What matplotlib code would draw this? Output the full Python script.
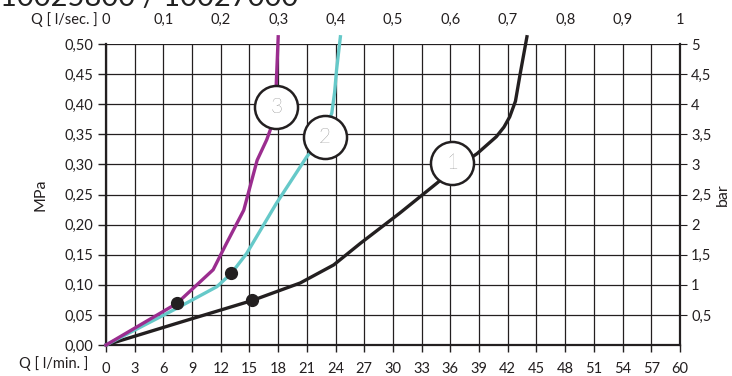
import matplotlib
matplotlib.use("Agg")
import matplotlib.pyplot as plt
from matplotlib.ticker import FuncFormatter

plt.rcParams['font.family'] = ['Lato', 'DejaVu Sans']

# curve data: flow [l/min] vs pressure [MPa]
q1 = [0, 7.4, 15.3, 20.3, 23.8, 26.6, 30.7, 34.6, 36.2, 38.8, 40.8, 41.6, 42.2, 42.8, 43.3, 44.0]
p1 = [0, 0.036, 0.074, 0.103, 0.133, 0.169, 0.219, 0.269, 0.29, 0.318, 0.346, 0.362, 0.379, 0.405, 0.451, 0.512]
q2 = [0, 7.4, 11.6, 13.1, 14.7, 17.8, 21.0, 22.4, 23.6, 23.9, 24.1, 24.5]
p2 = [0, 0.061, 0.097, 0.119, 0.152, 0.235, 0.313, 0.34, 0.385, 0.42, 0.457, 0.512]
q3 = [0, 7.4, 11.2, 12.6, 14.4, 15.8, 16.8, 17.3, 17.8, 17.8, 18.0]
p3 = [0, 0.069, 0.125, 0.169, 0.224, 0.307, 0.341, 0.363, 0.396, 0.435, 0.512]

# operating points (dots)
dot_q = [7.4, 13.1, 15.3]
dot_p = [0.069, 0.119, 0.074]

# curve number circles
lab_txt = ['1', '2', '3']
lab_q = [36.2, 22.9, 17.8]
lab_p = [0.302, 0.346, 0.396]

x_ticks = list(range(0, 61, 3))
y_ticks = [i * 0.05 for i in range(11)]
top_ticks = [i / 10 for i in range(11)]

col1 = '#231f20'
col2 = '#66c9c9'
col3 = '#9b2d8f'
txt = '#231f20'
fs = 10.5

fig = plt.figure(figsize=(7.32, 3.76), dpi=100)
ax = fig.add_axes([106 / 732, 31 / 376, 574 / 732, 301 / 376])

ax.set_xlim(0, 60)
ax.set_ylim(0, 0.5)
ax.set_xticks(x_ticks)
ax.set_yticks(y_ticks)
ax.grid(True, color='#231f20', lw=0.9)
ax.set_axisbelow(True)

comma = FuncFormatter(lambda v, pos: ('%g' % round(v, 2)).replace('.', ','))
ax.yaxis.set_major_formatter(FuncFormatter(lambda v, pos: ('%.2f' % v).replace('.', ',')))
ax.tick_params(axis='both', direction='out', length=6, width=1, color=txt,
               labelsize=fs, labelcolor=txt, pad=3)
ax.tick_params(axis='x', length=5, pad=7)

for s in ['left', 'bottom', 'right']:
    ax.spines[s].set_linewidth(1.6)
    ax.spines[s].set_color(txt)
ax.spines['top'].set_visible(False)

ax.plot(q1, p1, color=col1, lw=2.4, clip_on=False, zorder=3)
ax.plot(q2, p2, color=col2, lw=2.4, clip_on=False, zorder=3)
ax.plot(q3, p3, color=col3, lw=2.4, clip_on=False, zorder=3)
ax.plot(dot_q, dot_p, 'o', color=col1, ms=8.5, zorder=4, clip_on=False)

for t, q, p in zip(lab_txt, lab_q, lab_p):
    ax.plot(q, p, 'o', ms=31, mfc='white', mec=col1, mew=1.8, zorder=5, clip_on=False)
    ax.text(q, p, t, ha='center', va='center', fontsize=15, color='#444444',
            fontweight='light', zorder=6)

ax.set_ylabel('MPa', fontsize=11.5, color=txt, labelpad=12)

# right axis in bar
axr = ax.twinx()
axr.set_ylim(0, 5)
axr.set_yticks([0.5 * i for i in range(1, 11)])
axr.yaxis.set_major_formatter(comma)
axr.tick_params(axis='y', direction='out', length=5, color=txt, labelsize=fs,
                labelcolor=txt, pad=3)
axr.set_ylabel('bar', fontsize=11.5, color=txt, rotation=90, labelpad=3)
for s in axr.spines.values():
    s.set_visible(False)

# top axis in l/sec
axt = ax.twiny()
axt.set_xlim(0, 1)
axt.set_xticks(top_ticks)
axt.xaxis.set_major_formatter(comma)
axt.tick_params(axis='x', length=0, labelsize=fs, labelcolor=txt, pad=12)
for s in axt.spines.values():
    s.set_visible(False)

fig.text(98 / 732, 1 - 20 / 376, 'Q [ l/sec. ]', ha='right', va='center', fontsize=fs, color=txt)
fig.text(88 / 732, 1 - 364 / 376, 'Q [ l/min. ]', ha='right', va='center', fontsize=fs, color=txt)
fig.text(0.0, 1 - 6 / 376, '10025800 / 10027000', ha='left', va='baseline',
         fontsize=21, color='#222222')

fig.savefig('out.png', dpi=100)
